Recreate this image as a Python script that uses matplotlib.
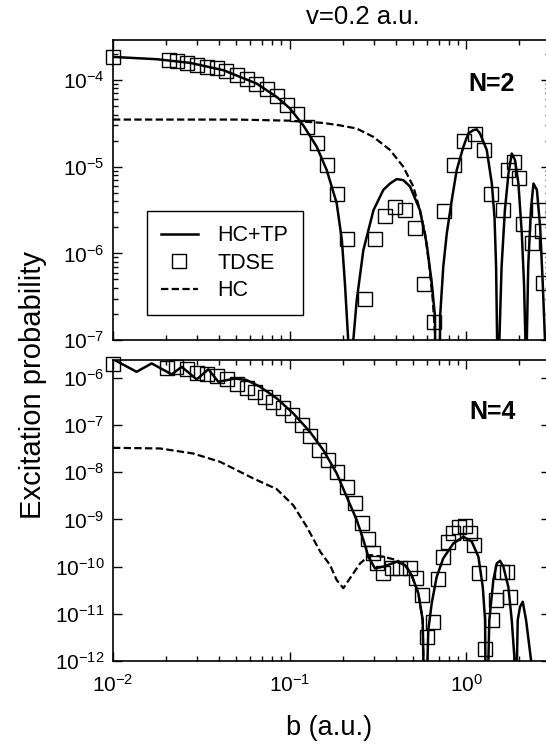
import matplotlib
matplotlib.use("Agg")
import matplotlib.pyplot as plt
from matplotlib.ticker import LogLocator, NullLocator, NullFormatter

plt.rcParams['font.family'] = ['Liberation Sans', 'DejaVu Sans']
plt.rcParams['mathtext.default'] = 'regular'

# ---------------- data: N=2 panel ----------------
n2_hctp_b = [0.01, 0.0177, 0.0273, 0.0422, 0.0652, 0.0845, 0.1006, 0.1197, 0.1426,
             0.1626, 0.185, 0.198, 0.206, 0.215, 0.2223, 0.2298, 0.2404, 0.262,
             0.299, 0.340, 0.371, 0.405, 0.441, 0.482, 0.548, 0.598, 0.640, 0.667,
             0.690, 0.713, 0.743, 0.778, 0.830, 0.885, 0.966, 1.03, 1.10, 1.15,
             1.20, 1.31, 1.40, 1.45, 1.48, 1.50, 1.524, 1.545, 1.59, 1.66, 1.74,
             1.815, 1.895, 1.98, 2.07, 2.13, 2.17, 2.19, 2.21, 2.25, 2.33, 2.41,
             2.52, 2.63, 2.72, 2.80, 2.85]
n2_hctp_p = [1.85e-4, 1.74e-4, 1.58e-4, 1.30e-4, 9.1e-5, 6.4e-5, 4.7e-5, 3.0e-5, 1.70e-5,
             9.1e-6, 3.8e-6, 1.42e-6, 4.5e-7, 1.0e-7, 1e-12, 1.0e-7, 2.9e-7, 1.09e-6,
             3.15e-6, 5.4e-6, 6.4e-6, 7.2e-6, 7.0e-6, 5.9e-6, 3.15e-6, 1.3e-6, 4.5e-7, 1.86e-7,
             1e-12, 1.86e-7, 7.0e-7, 1.70e-6, 4.1e-6, 9.1e-6, 1.70e-5, 2.42e-5, 2.64e-5, 2.7e-5,
             2.42e-5, 1.56e-5, 6.4e-6, 2.6e-6, 7.0e-7, 1.0e-7, 1e-12, 1.0e-7, 7.0e-7, 3.15e-6, 8.4e-6,
             1.42e-5, 1.19e-5, 6.4e-6, 1.70e-6, 4.5e-7, 1.0e-7, 1e-12, 1.0e-7, 7.0e-7, 3.15e-6, 6.4e-6,
             5.4e-6, 2.0e-6, 4.5e-7, 1.0e-7, 1e-12]

n2_hc_b = [0.01, 0.05, 0.1, 0.155, 0.193, 0.240, 0.2985, 0.371, 0.441, 0.503, 0.548,
           0.586, 0.620, 0.648, 0.667, 0.690]
n2_hc_p = [3.5e-5, 3.5e-5, 3.4e-5, 3.2e-5, 3.0e-5, 2.76e-5, 2.21e-5, 1.56e-5, 1.0e-5, 5.9e-6, 3.15e-6,
           1.70e-6, 7.0e-7, 2.9e-7, 1.2e-7, 1e-12]

n2_tdse_b = [0.0100, 0.0208, 0.0230, 0.0264, 0.0298, 0.0340, 0.0387, 0.0436, 0.0502, 0.0572,
             0.0643, 0.0743, 0.0846, 0.0964, 0.110, 0.125, 0.143, 0.163, 0.185, 0.211,
             0.268, 0.305, 0.347, 0.396, 0.451, 0.514, 0.581, 0.661, 0.753, 0.859,
             0.975, 1.125, 1.265, 1.386, 1.627, 1.737, 1.87, 1.995, 2.09, 2.36, 2.59,
             2.69, 2.74]
n2_tdse_p = [1.85e-4, 1.69e-4, 1.65e-4, 1.58e-4, 1.49e-4, 1.42e-4, 1.36e-4, 1.28e-4, 1.14e-4, 1.04e-4,
             9.1e-5, 7.8e-5, 6.5e-5, 5.2e-5, 4.1e-5, 2.9e-5, 1.86e-5, 1.04e-5, 4.9e-6, 1.45e-6,
             3.0e-7, 1.45e-6, 2.7e-6, 3.45e-6, 3.15e-6, 1.94e-6, 4.4e-7, 1.6e-7, 3.1e-6, 1.04e-5,
             2.0e-5, 2.4e-5, 1.55e-5, 4.9e-6, 3.15e-6, 9.1e-6, 1.12e-5, 7.5e-6, 2.2e-6, 1.3e-6, 3.15e-6,
             1.8e-6, 4.5e-7]

# ---------------- data: N=4 panel ----------------
n4_hctp_b = [0.01, 0.0136, 0.01656, 0.0215, 0.0245, 0.0298, 0.0347, 0.0395, 0.0491, 0.0572,
             0.0681, 0.0846, 0.105, 0.1306, 0.1554, 0.185, 0.211, 0.2404, 0.262, 0.2797,
             0.305, 0.340, 0.405, 0.451, 0.492, 0.537, 0.568, 0.586, 0.611, 0.639, 0.682,
             0.743, 0.847, 0.966, 1.077, 1.175, 1.244, 1.282, 1.30, 1.355, 1.428, 1.493,
             1.558, 1.627, 1.737, 1.815, 1.878, 1.895, 1.963, 2.023, 2.095, 2.188, 2.285,
             2.356, 2.366]
n4_hctp_p = [2.5e-6, 1.35e-6, 2.03e-6, 1.19e-6, 1.72e-6, 9.3e-7, 1.53e-6, 8.3e-7, 9.7e-7, 9.0e-7,
             6.5e-7, 3.7e-7, 1.77e-7, 7.2e-8, 2.95e-8, 9.5e-9, 3.0e-9, 9.7e-10, 3.7e-10, 1.62e-10,
             9.2e-11, 1.0e-10, 1.27e-10, 1.08e-10, 6.6e-11, 2.7e-11, 7.4e-12, 1e-14, 4.5e-12, 1.67e-11, 6.1e-11,
             1.5e-10, 3.1e-10, 4.3e-10, 3.4e-10, 1.62e-10, 3.7e-11, 7.4e-12, 1e-14, 7.4e-12, 5.2e-11, 1.17e-10,
             1.33e-10, 1.0e-10, 3.7e-11, 7.4e-12, 1.23e-12, 1e-14, 7.4e-12, 1.41e-11, 1.8e-11, 7.4e-12, 2.0e-12,
             8e-13, 1e-14]

n4_hc_b = [0.01, 0.01847, 0.0285, 0.0404, 0.0624, 0.0846, 0.105, 0.1252, 0.149, 0.1696,
           0.185, 0.2018, 0.220, 0.251, 0.286, 0.340, 0.405, 0.461, 0.492, 0.537, 0.568, 0.586]
n4_hc_p = [3.3e-8, 3.2e-8, 2.5e-8, 1.67e-8, 7.4e-9, 4.4e-9, 2.0e-9, 7.0e-10, 2.1e-10, 1.08e-10,
           5.2e-11, 3.5e-11, 5.65e-11, 1.17e-10, 1.76e-10, 1.62e-10, 1.38e-10, 1.0e-10, 6.6e-11, 2.7e-11,
           7.4e-12, 1e-14]

n4_tdse_b = [0.0100, 0.0201, 0.0227, 0.0262, 0.0298, 0.0339, 0.0386, 0.0440, 0.0502, 0.0572,
             0.0640, 0.0726, 0.0810, 0.0920, 0.103, 0.117, 0.131, 0.147, 0.166, 0.185,
             0.211, 0.235, 0.2565, 0.2797, 0.2985, 0.312, 0.340, 0.379, 0.423, 0.482,
             0.521, 0.561, 0.599, 0.648, 0.691, 0.738, 0.794, 0.847, 0.916, 0.987,
             1.054, 1.11, 1.185, 1.286, 1.40, 1.479, 1.593, 1.70, 1.775]
n4_tdse_p = [1.96e-6, 1.59e-6, 1.72e-6, 1.53e-6, 1.29e-6, 1.20e-6, 1.09e-6, 9.4e-7, 7.4e-7, 6.1e-7,
             5.0e-7, 3.9e-7, 3.1e-7, 2.3e-7, 1.63e-7, 1.0e-7, 5.8e-8, 2.95e-8, 1.81e-8, 1.03e-8,
             4.9e-9, 2.2e-9, 8.4e-10, 3.8e-10, 1.91e-10, 1.17e-10, 7.2e-11, 9.2e-11, 9.2e-11, 9.2e-11,
             5.65e-11, 2.5e-11, 3.3e-12, 6.8e-12, 5.4e-11, 1.62e-10, 3.4e-10, 5.1e-10, 6.8e-10, 7.2e-10,
             5.2e-10, 2.9e-10, 7.4e-11, 1.77e-12, 7.4e-12, 1.96e-11, 7.8e-11, 7.8e-11, 2.3e-11]

# ---------------- figure ----------------
W, H = 546, 749
fig = plt.figure(figsize=(W / 100, H / 100), dpi=100)
left, right = 113, 550
ax1 = fig.add_axes([left / W, 1 - 340 / H, (right - left) / W, 300 / H])
ax2 = fig.add_axes([left / W, 1 - 661 / H, (right - left) / W, 301 / H])

dash = (0, (3.3, 1.5))
for ax, (hb, hp, cb, cp, tb, tp) in [
        (ax1, (n2_hctp_b, n2_hctp_p, n2_hc_b, n2_hc_p, n2_tdse_b, n2_tdse_p)),
        (ax2, (n4_hctp_b, n4_hctp_p, n4_hc_b, n4_hc_p, n4_tdse_b, n4_tdse_p))]:
    ax.plot(hb, hp, '-', color='black', lw=1.8, label='HC+TP')
    ax.plot(tb, tp, 's', mfc='none', mec='black', mew=1.0, ms=9.5, clip_on=False,
            label='TDSE', zorder=4)
    ax.plot(cb, cp, color='black', lw=1.6, linestyle=dash, label='HC')
    ax.set_xscale('log')
    ax.set_yscale('log')
    ax.set_xlim(0.01, 2.99)
    for s in ax.spines.values():
        s.set_linewidth(1.2)
    ax.tick_params(which='both', direction='in', top=True, right=True, width=1.0,
                   labelsize=15)
    ax.tick_params(which='major', length=6.5)
    ax.tick_params(which='minor', length=3.5)
    ax.tick_params(axis='x', pad=9)
    ax.tick_params(axis='y', pad=6)
    ax.xaxis.set_major_locator(LogLocator(base=10, numticks=10))
    ax.xaxis.set_minor_locator(LogLocator(base=10, subs=range(2, 10), numticks=20))
    ax.xaxis.set_minor_formatter(NullFormatter())

ax1.set_ylim(1e-7, 2.9e-4)
ax1.yaxis.set_major_locator(LogLocator(base=10, numticks=10))
ax1.yaxis.set_minor_locator(LogLocator(base=10, subs=range(2, 10), numticks=20))
ax1.yaxis.set_minor_formatter(NullFormatter())
ax1.tick_params(axis='x', labelbottom=False)

ax2.set_ylim(1e-12, 2.4e-6)
ax2.yaxis.set_major_locator(LogLocator(base=10, numticks=20))
ax2.yaxis.set_minor_locator(NullLocator())

fig.text(492 / W, 1 - 84 / H, 'N=2', fontsize=18, fontweight='bold', ha='center', va='center')
fig.text(493 / W, 1 - 412 / H, 'N=4', fontsize=18, fontweight='bold', ha='center', va='center')
fig.text(363 / W, 1 - 17 / H, 'v=0.2 a.u.', fontsize=18.5, ha='center', va='center')
fig.text(329 / W, 1 - 728 / H, 'b (a.u.)', fontsize=19.5, ha='center', va='center')
fig.text(33 / W, 1 - 385 / H, 'Excitation probability', fontsize=21, rotation=90,
         ha='center', va='center')

leg = ax1.legend(loc='lower left', bbox_to_anchor=(0.077, 0.083), fontsize=15.5,
                 frameon=True, fancybox=False, edgecolor='black', framealpha=1,
                 handlelength=1.75, handletextpad=0.9, labelspacing=0.3,
                 borderpad=0.65, borderaxespad=0)
leg.get_frame().set_linewidth(1.0)

fig.savefig('out.png', dpi=100)
